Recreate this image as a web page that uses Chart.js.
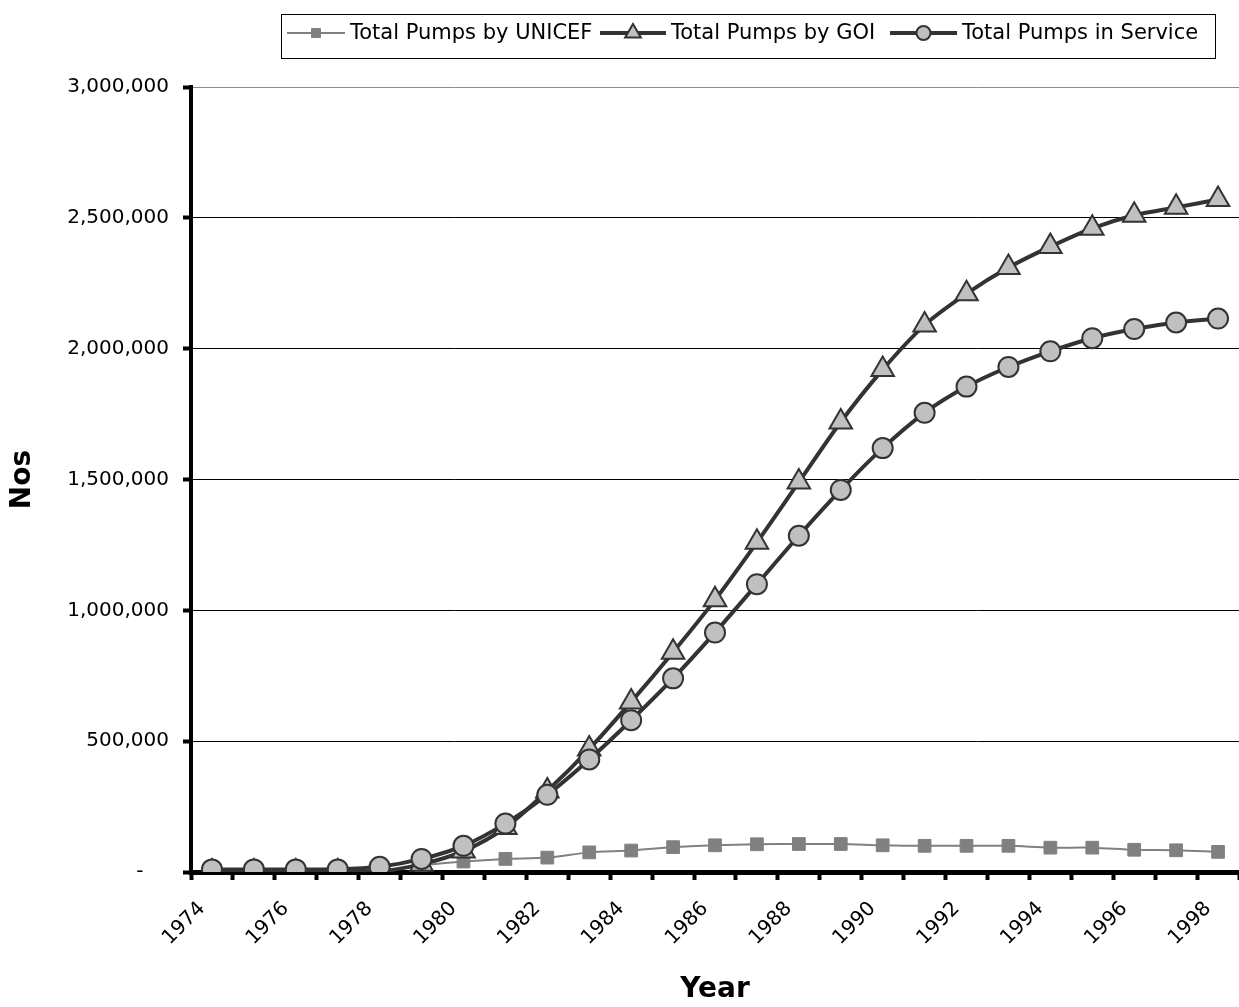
<!DOCTYPE html>
<html>
<head>
<meta charset="utf-8">
<script src="https://cdn.jsdelivr.net/npm/chart.js@4/dist/chart.umd.min.js"></script>
<style>
    body { margin: 0; background: #fff; }
    #wrap { width: 1239px; height: 1007px; }
</style>
</head>
<body>
<div id="wrap"><canvas id="pumpChart" width="1239" height="1007"></canvas></div>
<script>
// Years on the x axis
const years = ['1974', '1975', '1976', '1977', '1978', '1979', '1980', '1981', '1982', '1983', '1984', '1985',
    '1986', '1987', '1988', '1989', '1990', '1991', '1992', '1993', '1994', '1995', '1996', '1997', '1998'];

// Values
const unicefPumps = [3000, 3000, 3000, 3000, 5000, 25000, 40000, 50000, 55000, 75000, 82000, 95000,
    102000, 106000, 107000, 107000, 102000, 100000, 100000, 100000, 93000, 93000, 85000, 83000, 77000];
const goiPumps = [0, 0, 0, 0, 2000, 30000, 80000, 170000, 310000, 470000, 650000, 840000,
    1040000, 1260000, 1490000, 1720000, 1920000, 2090000, 2210000, 2310000, 2390000, 2460000, 2510000, 2540000, 2570000];
const servicePumps = [10000, 10000, 10000, 10000, 20000, 50000, 100000, 185000, 295000, 430000, 580000, 740000,
    915000, 1100000, 1285000, 1460000, 1620000, 1755000, 1855000, 1930000, 1990000, 2040000, 2075000, 2100000, 2115000];

const fontFamily = '"DejaVu Sans", sans-serif';

// where each legend entry starts (line start, text start)
const legendSlots = [[287, 350], [600, 671], [890, 962]];

function drawMarker(ctx, style, r, x, y) {
    if (style === 'rect') {
        const s = r * Math.SQRT1_2;
        ctx.rect(x - s, y - s, 2 * s, 2 * s);
    } else if (style === 'triangle') {
        ctx.moveTo(x, y - r);
        ctx.lineTo(x + r * 0.866, y + r * 0.5);
        ctx.lineTo(x - r * 0.866, y + r * 0.5);
        ctx.closePath();
    } else {
        ctx.arc(x, y, r, 0, Math.PI * 2);
    }
}

// Legend drawn by hand so the box has a border and each item shows line + marker
const boxLegend = {
    id: 'boxLegend',
    afterDraw(chart) {
        const ctx = chart.ctx;
        ctx.save();
        ctx.strokeStyle = '#000';
        ctx.lineWidth = 1;
        ctx.strokeRect(281.5, 14.5, 934, 44);
        ctx.font = '21px ' + fontFamily;
        ctx.textBaseline = 'middle';
        const y = 33;
        chart.data.datasets.forEach((ds, i) => {
            const [lx, tx] = legendSlots[i];
            ctx.strokeStyle = ds.borderColor;
            ctx.lineWidth = ds.borderWidth;
            ctx.beginPath();
            ctx.moveTo(lx, y);
            ctx.lineTo(tx - 5, y);
            ctx.stroke();
            ctx.fillStyle = ds.pointBackgroundColor;
            ctx.strokeStyle = ds.pointBorderColor;
            ctx.lineWidth = ds.pointBorderWidth;
            ctx.beginPath();
            drawMarker(ctx, ds.pointStyle, ds.pointRadius * 0.7, (lx + tx - 5) / 2, y);
            ctx.fill();
            ctx.stroke();
            ctx.fillStyle = '#000';
            ctx.fillText(ds.label, tx, y + 1);
        });
        ctx.restore();
    }
};

new Chart(document.getElementById('pumpChart'), {
    type: 'line',
    data: {
        labels: years,
        datasets: [{
            label: 'Total Pumps by UNICEF',
            data: unicefPumps,
            borderColor: '#808080',
            borderWidth: 2,
            pointStyle: 'rect',
            pointRadius: 9,
            pointBackgroundColor: '#808080',
            pointBorderColor: '#808080',
            pointBorderWidth: 1,
            tension: 0.3,
            order: 3
        }, {
            label: 'Total Pumps by GOI',
            data: goiPumps,
            borderColor: '#333333',
            borderWidth: 4,
            pointStyle: 'triangle',
            pointRadius: 13,
            pointBackgroundColor: '#c0c0c0',
            pointBorderColor: '#333333',
            pointBorderWidth: 2,
            tension: 0.3,
            order: 2
        }, {
            label: 'Total Pumps in Service',
            data: servicePumps,
            borderColor: '#333333',
            borderWidth: 4,
            pointStyle: 'circle',
            pointRadius: 10,
            pointBackgroundColor: '#c0c0c0',
            pointBorderColor: '#333333',
            pointBorderWidth: 2,
            tension: 0.3,
            order: 1
        }]
    },
    options: {
        responsive: false,
        animation: false,
        layout: { autoPadding: false, padding: { top: 87, right: 0, left: 0, bottom: 0 } },
        plugins: {
            legend: { display: false },
            tooltip: { enabled: false }
        },
        scales: {
            x: {
                offset: true,
                afterFit(scale) {
                    scale.height = 135;
                    scale.paddingLeft = 0;
                    scale.paddingRight = 0;
                },
                grid: {
                    offset: true,
                    drawOnChartArea: false,
                    tickLength: 8,
                    tickWidth: 4,
                    tickColor: '#000'
                },
                border: { color: '#000', width: 5 },
                ticks: {
                    autoSkip: false,
                    maxRotation: 45,
                    minRotation: 45,
                    padding: 17,
                    labelOffset: -10,
                    color: '#000',
                    font: { family: fontFamily, size: 20 },
                    callback: function (value, index) {
                        return index % 2 === 0 ? years[index] : '';
                    }
                },
                title: {
                    display: true,
                    text: 'Year',
                    color: '#000',
                    font: { family: fontFamily, size: 28, weight: 'bold' },
                    padding: { top: 0, bottom: 0 }
                }
            },
            y: {
                min: 0,
                max: 3000000,
                afterFit(scale) { scale.width = 191; },
                grid: {
                    color: (c) => c.tick && c.tick.value === 3000000 ? '#8c8c8c' : '#000',
                    lineWidth: 1,
                    tickLength: 8,
                    tickWidth: 4,
                    tickColor: '#000'
                },
                border: { color: '#000', width: 4 },
                ticks: {
                    stepSize: 500000,
                    padding: 14,
                    color: '#000',
                    font: { family: fontFamily, size: 20 },
                    callback: (v) => v === 0 ? '-    ' : v.toLocaleString('en-US')
                },
                title: {
                    display: true,
                    text: 'Nos',
                    color: '#000',
                    font: { family: fontFamily, size: 28, weight: 'bold' },
                    padding: { top: 6, bottom: 0 }
                }
            }
        }
    },
    plugins: [boxLegend]
});
</script>
</body>
</html>
